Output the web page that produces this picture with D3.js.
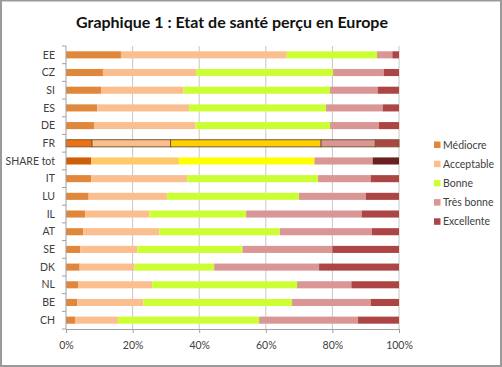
<!DOCTYPE html>
<html>
<head>
<meta charset="utf-8">
<script src="https://cdn.jsdelivr.net/npm/d3@7"></script>
<style>
  html, body { margin: 0; padding: 0; background: #fff; }
  svg { display: block; font-family: Lato, "Open Sans", sans-serif; }
</style>
</head>
<body>
<svg id="chart" width="502" height="367"></svg>
<script>
const countries = ["EE", "CZ", "SI", "ES", "DE", "FR", "SHARE tot", "IT", "LU", "IL", "AT", "SE", "DK", "NL", "BE", "CH"];
const series = ["Médiocre", "Acceptable", "Bonne", "Très bonne", "Excellente"];
const mediocre   = [16.5, 11.1, 10.5, 9.4, 8.4, 7.8, 7.6, 7.6, 6.8, 5.8, 5.2, 4.3, 4.1, 3.7, 3.4, 2.7];
const acceptable = [49.8, 28.0, 24.8, 27.6, 30.5, 23.6, 26.3, 28.8, 23.5, 19.2, 22.8, 17.1, 16.5, 22.2, 19.8, 12.9];
const bonne      = [27.1, 41.1, 44.0, 41.1, 40.4, 45.2, 40.7, 39.3, 39.7, 29.1, 36.2, 31.6, 23.9, 43.5, 44.7, 42.4];
const tresBonne  = [4.6, 15.2, 14.3, 17.0, 14.7, 16.3, 17.5, 15.8, 20.0, 34.7, 27.7, 27.0, 31.5, 16.3, 23.6, 29.7];
const excellente = [2.0, 4.6, 6.4, 4.9, 6.0, 7.1, 7.9, 8.5, 10.0, 11.2, 8.1, 20.0, 24.0, 14.3, 8.5, 12.3];
const xTicks = [0, 20, 40, 60, 80, 100];

const colors = ["#e0873c", "#fbbf8f", "#ccff33", "#d99694", "#ad4545"];
const shareColors = ["#cc5f0a", "#ffc868", "#ffff00", "#d99694", "#6b2020"];
const frColors = ["#f07010", "#fbbf8f", "#ffd000", "#d99694", "#ad4545"];

const width = 502, height = 367;
const margin = { left: 66, top: 46, right: 103, bottom: 38 };
const svg = d3.select("svg#chart");

// chart border
svg.append("rect")
  .attr("x", 1).attr("y", 0.5)
  .attr("width", width - 2).attr("height", height - 1.5)
  .attr("fill", "#fff").attr("stroke", "#9a9a9a").attr("stroke-width", 2);

svg.append("text")
  .attr("x", 232).attr("y", 28)
  .attr("text-anchor", "middle")
  .attr("font-size", 16).attr("font-weight", "bold").attr("fill", "#111")
  .text("Graphique 1 : Etat de santé perçu en Europe");

const x = d3.scaleLinear().domain([0, 100]).range([margin.left, width - margin.right]);
const y = d3.scaleBand().domain(countries).range([margin.top, height - margin.bottom]).paddingInner(0.6).paddingOuter(0.3);

// gridlines
svg.append("g")
  .selectAll("line")
  .data(xTicks.slice(1))
  .join("line")
  .attr("x1", (d) => x(d)).attr("x2", (d) => x(d))
  .attr("y1", margin.top).attr("y2", height - margin.bottom)
  .attr("stroke", "#c8c8c8").attr("stroke-width", 1);

// stack the series
const rows = countries.map((c, i) => ({
  country: c, values: [mediocre[i], acceptable[i], bonne[i], tresBonne[i], excellente[i]],
}));
const stack = d3.stack()
  .keys(d3.range(series.length))
  .value((d, k) => d.values[k]);
const layers = stack(rows);

const fillFor = (k, d) =>
  d.data.country === "SHARE tot" ? shareColors[k]
  : d.data.country === "FR" ? frColors[k] : colors[k];

svg.append("g")
  .selectAll("g")
  .data(layers)
  .join("g")
  .selectAll("rect")
  .data((layer) => layer.map((d) => ({ k: layer.key, d })))
  .join("rect")
  .attr("x", (e) => x(e.d[0]))
  .attr("y", (e) => y(e.d.data.country))
  .attr("width", (e) => x(e.d[1]) - x(e.d[0]))
  .attr("height", y.bandwidth())
  .attr("fill", (e) => fillFor(e.k, e.d))
  .attr("stroke", (e) => (e.d.data.country === "FR" ? "#7a5a30" : "none"))
  .attr("stroke-width", 1);

// y axis
const yAxis = svg.append("g")
  .attr("transform", `translate(${x(0)},0)`);
yAxis.append("line")
  .attr("y1", margin.top).attr("y2", height - margin.bottom)
  .attr("stroke", "#a0a0a0");
const step = y.step();
yAxis.selectAll("line.tick")
  .data(d3.range(countries.length + 1))
  .join("line").attr("class", "tick")
  .attr("x1", -4).attr("x2", 0)
  .attr("y1", (i) => margin.top + i * step).attr("y2", (i) => margin.top + i * step)
  .attr("stroke", "#a0a0a0");
yAxis.selectAll("text")
  .data(countries)
  .join("text")
  .attr("x", -11)
  .attr("y", (d) => y(d) + y.bandwidth() / 2)
  .attr("dy", "0.35em")
  .attr("text-anchor", "end")
  .attr("font-size", 10.5).attr("fill", "#404040")
  .text((d) => d);

// x axis
const xAxis = svg.append("g")
  .attr("transform", `translate(0,${height - margin.bottom})`)
  .call(d3.axisBottom(x).tickValues(xTicks).tickFormat((d) => d + "%").tickSize(4).tickPadding(9));
xAxis.select(".domain").attr("stroke", "#a0a0a0");
xAxis.selectAll(".tick line").attr("stroke", "#a0a0a0");
xAxis.selectAll(".tick text")
  .attr("font-size", 10.5).attr("fill", "#404040")
  .attr("font-family", "Lato, 'Open Sans', sans-serif");

// legend
const legend = svg.append("g")
  .selectAll("g")
  .data(series)
  .join("g")
  .attr("transform", (_, i) => `translate(434,${145 + i * 19.2})`);
legend.append("rect")
  .attr("x", 0).attr("y", -3.5)
  .attr("width", 6.5).attr("height", 6.5)
  .attr("fill", (_, i) => colors[i]);
legend.append("text")
  .attr("x", 9).attr("dy", "0.35em")
  .attr("font-size", 10.5).attr("fill", "#404040")
  .text((d) => d);
</script>
</body>
</html>
